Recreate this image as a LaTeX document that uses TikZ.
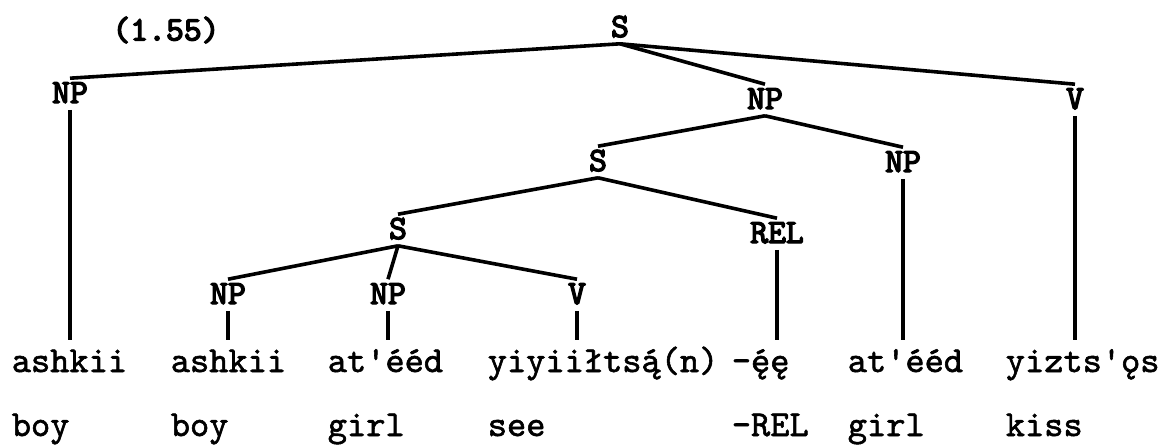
\documentclass[tikz,border=0pt]{standalone}
\usepackage{fontspec}
\newfontfamily\heavytt[FakeBold=1.6]{lmmono10-regular.otf}
\newfontfamily\darktt[FakeBold=4]{lmmono10-regular.otf}
\newcommand{\labfont}{\darktt\fontsize{17}{19}\selectfont}
\newcommand{\wordfont}{\heavytt\fontsize{18.3}{20}\selectfont}

\begin{document}
\begin{tikzpicture}[x=0.5pt,y=-0.5pt,line width=1.8pt]

      \useasboundingbox (0,0) rectangle (1166,445);

      \node[font=\labfont] (ex) at (166,30) {(1.55)};

      \begin{scope}[every node/.style={font=\labfont,inner sep=2.5pt,text height=9pt,text depth=0pt}]
        \node (1)  at (620,28)  {S};
        \node (2)  at (70,94)   {NP};
        \node (3)  at (765,100) {NP};
        \node (4)  at (1075,100) {V};
        \node (5)  at (598,162) {S};
        \node (6)  at (903,163) {NP};
        \node (7)  at (398,230) {S};
        \node (8)  at (777,234) {REL};
        \node (9)  at (228,295) {NP};
        \node (10) at (388,295) {NP};
        \node (11) at (577,295) {V};
      \end{scope}

      \begin{scope}[every node/.style={font=\wordfont,anchor=base west,inner sep=0pt,text height=15pt}]
        \node (a1) at (10,372)   {ashkii};
        \node (a2) at (169,372)  {ashkii};
        \node (a3) at (326,372)  {at'ééd};
        \node (a4) at (486,372)  {yiyiiłtsą́(n)};
        \node (a5) at (730,372)  {-ę́ę};
        \node (a6) at (846,372)  {at'ééd};
        \node (a7) at (1004,372) {yizts'ǫs};

        \node (b1) at (10,436)   {boy};
        \node (b2) at (169,436)  {boy};
        \node (b3) at (326,436)  {girl};
        \node (b4) at (486,436)  {see};
        \node (b5) at (730,436)  {-REL};
        \node (b6) at (846,436)  {girl};
        \node (b7) at (1004,436) {kiss};
      \end{scope}

      \begin{scope}[every edge/.style={draw}]
        \path (1.south) edge (2.north);
        \path (1.south) edge (3.north);
        \path (1.south) edge (4.north);
        \path (3.south) edge (5.north);
        \path (3.south) edge (6.north);
        \path (5.south) edge (7.north);
        \path (5.south) edge (8.north);
        \path (7.south) edge (9.north);
        \path (7.south) edge (10.north);
        \path (7.south) edge (11.north);
      \end{scope}

      % straight down to the words
      \begin{scope}[every edge/.style={draw}]
        \path (2.south)  edge (2.south |- a1.north);
        \path (9.south)  edge (9.south |- a2.north);
        \path (10.south) edge (10.south |- a3.north);
        \path (11.south) edge (11.south |- a4.north);
        \path (8.south)  edge (8.south |- a5.north);
        \path (6.south)  edge (6.south |- a6.north);
        \path (4.south)  edge (4.south |- a7.north);
      \end{scope}

    \end{tikzpicture}
\end{document}
